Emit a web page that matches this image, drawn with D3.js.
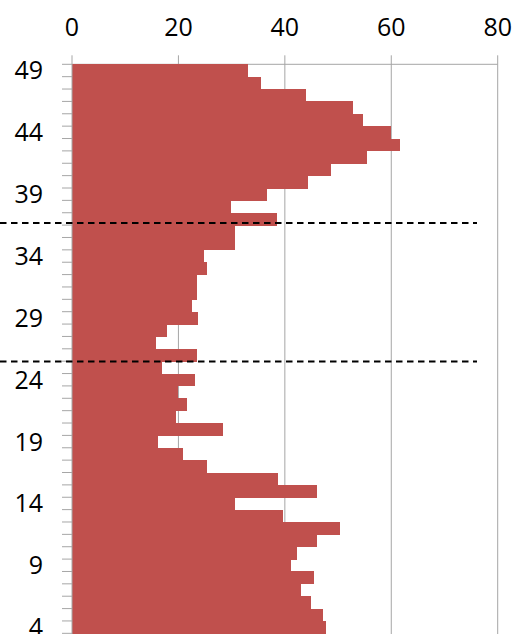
<!DOCTYPE html>
<html>
<head>
<meta charset="utf-8">
<script src="https://cdn.jsdelivr.net/npm/d3@7"></script>
<style>
  body { margin: 0; background: #fff; }
  text { font-family: "Open Sans", sans-serif; fill: #000; }
</style>
</head>
<body>
<svg id="chart"></svg>
<script>
// categories (top to bottom), 3 is only partly visible at the bottom edge
const categories = [49,48,47,46,45,44,43,42,41,40,39,38,37,36,35,34,33,32,31,30,29,28,27,26,25,24,23,22,21,20,19,18,17,16,15,14,13,12,11,10,9,8,7,6,5,4,3]
const values = [33.1,35.5,43.9,52.9,54.6,60,61.7,55.5,48.7,44.4,36.7,29.8,38.6,30.7,30.7,24.9,25.4,23.5,23.5,22.5,23.7,17.9,15.8,23.4,17.0,23.2,20.0,21.7,19.5,28.4,16.2,20.8,25.4,38.8,46.1,30.7,39.6,50.4,46.1,42.2,41.1,45.4,43.0,44.9,47.1,47.8,44.9]
const xTicks = [0, 20, 40, 60, 80]
const yLabels = [49, 44, 39, 34, 29, 24, 19, 14, 9, 4]
// dashed reference lines, in category units
const refLines = [36.67, 25.47]

const width = 518, height = 634
const plotTop = 64.3, band = 12.37

const svg = d3.select("#chart")
  .attr("width", width)
  .attr("height", height)

const x = d3.scaleLinear().domain([0, 80]).range([72, 497.7])
const y = d3.scaleBand().domain(categories).range([plotTop, plotTop + band * categories.length]).padding(0)
const yLin = d3.scaleLinear().domain([49.5, 2.5]).range([plotTop, plotTop + band * categories.length])

// grid lines (behind bars)
svg.append("g").selectAll("line")
  .data(xTicks.filter(d => d > 0))
  .join("line")
  .attr("x1", d => x(d)).attr("x2", d => x(d))
  .attr("y1", plotTop - 9).attr("y2", height)
  .attr("stroke", "#a6a6a6").attr("stroke-width", 1)

// top axis line
svg.append("line")
  .attr("x1", x(0)).attr("x2", x(80))
  .attr("y1", plotTop).attr("y2", plotTop)
  .attr("stroke", "#a6a6a6").attr("stroke-width", 1)

// bars
svg.append("g")
  .attr("shape-rendering", "crispEdges")
  .selectAll("rect")
  .data(categories)
  .join("rect")
  .attr("x", x(0))
  .attr("y", d => y(d))
  .attr("width", (d, i) => x(values[i]) - x(0))
  .attr("height", y.bandwidth() + 0.5)
  .attr("fill", "#C0504D")

// left axis line and ticks
svg.append("line")
  .attr("x1", x(0)).attr("x2", x(0))
  .attr("y1", plotTop - 9).attr("y2", height)
  .attr("stroke", "#a6a6a6").attr("stroke-width", 1)

svg.append("g").selectAll("line")
  .data(categories)
  .join("line")
  .attr("x1", x(0) - 10).attr("x2", x(0))
  .attr("y1", d => y(d)).attr("y2", d => y(d))
  .attr("stroke", "#a6a6a6").attr("stroke-width", 1)

// x tick labels (top)
svg.append("g").selectAll("text")
  .data(xTicks)
  .join("text")
  .attr("x", d => x(d))
  .attr("y", 36)
  .attr("text-anchor", "middle")
  .style("font-size", "25px")
  .text(d => d)

// y labels
svg.append("g").selectAll("text")
  .data(yLabels)
  .join("text")
  .attr("x", 43)
  .attr("y", d => y(d) + y.bandwidth() / 2)
  .attr("dy", "0.36em")
  .attr("text-anchor", "end")
  .style("font-size", "25px")
  .text(d => d)

// dashed lines
svg.append("g").selectAll("line")
  .data(refLines)
  .join("line")
  .attr("x1", 0).attr("x2", 477)
  .attr("y1", d => yLin(d)).attr("y2", d => yLin(d))
  .attr("stroke", "#000").attr("stroke-width", 2)
  .attr("stroke-dasharray", "6.5,4.5")
</script>
</body>
</html>
